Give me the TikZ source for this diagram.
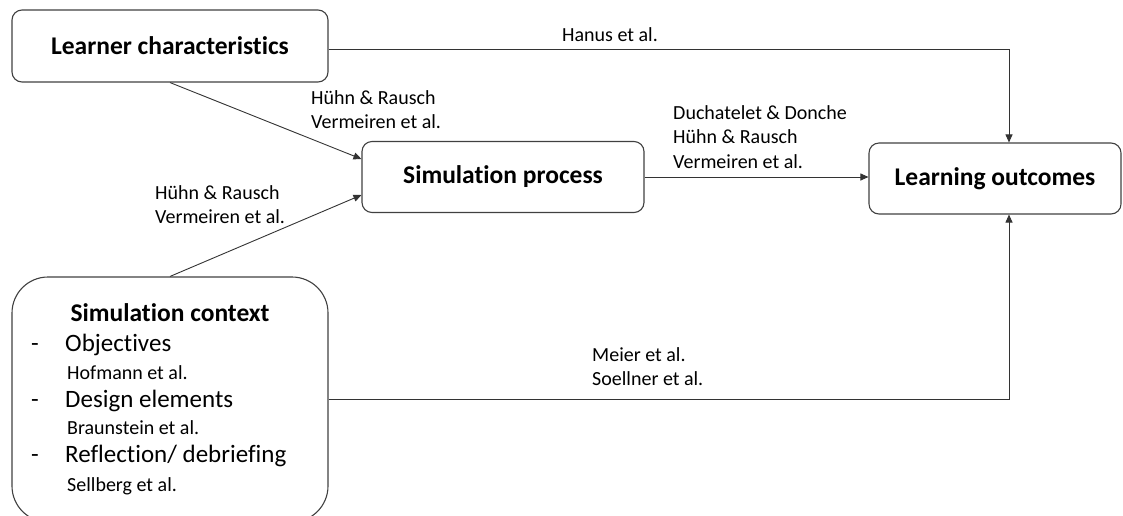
\documentclass[tikz,border=0pt]{standalone}
\usepackage{fontspec}
\setmainfont[Ligatures=NoCommon]{Carlito}
\usetikzlibrary{arrows.meta,calc}
\begin{document}
\begin{tikzpicture}[x=1pt,y=-1pt,
  box/.style={draw=black!75,line width=1.1pt,rounded corners=10pt,inner sep=0pt},
  title/.style={font=\fontsize{25.5}{30}\selectfont\bfseries},
  lbl/.style={font=\fontsize{20}{24.5}\selectfont,align=left,inner sep=0pt,anchor=west},
  item/.style={font=\fontsize{25}{30}\selectfont,inner sep=0pt,anchor=west,text height=18pt,text depth=5pt},
  arr/.style={draw=black!80,line width=0.9pt,-{Triangle[length=8pt,width=7pt]}}
]
\useasboundingbox (0,0) rectangle (1123,515);
% boxes
\node[box,minimum width=316pt,minimum height=72pt] (lc) at (170,46) {};
\node[title] (lct) at (lc.center) {Learner characteristics};
\node[box,minimum width=282pt,minimum height=71pt] (sp) at (503,177) {};
\node[title] (spt) at (sp.center) {Simulation process};
\node[box,minimum width=252pt,minimum height=71pt] (lo) at (995,178.5) {};
\node[title] (lot) at (lo.center) {Learning outcomes};
\node[box,rounded corners=36pt,minimum width=316pt,minimum height=245pt] (ctx) at (170,399.5) {};
% context content
\node[title] (ctxt) at (170,313) {Simulation context};
\node[item] (d1) at (31,345) {-};
\node[item] (i1) at (65,345) {Objectives};
\node[lbl] (s1) at (67,373) {Hofmann et al.};
\node[item] (d2) at (31,401) {-};
\node[item] (i2) at (65,401) {Design elements};
\node[lbl] (s2) at (67,428) {Braunstein et al.};
\node[item] (d3) at (31,456) {-};
\node[item] (i3) at (65,456) {Reflection/ debriefing};
\node[lbl] (s3) at (67,486) {Sellberg et al.};
% connectors
\coordinate (lotop) at ([xshift=14pt]lo.north);
\coordinate (lobot) at ([xshift=14pt]lo.south);
\draw[arr] ([yshift=-3pt]lc.east) -| (lotop);
\draw[arr] (lc.south) -- ([yshift=18pt]sp.west);
\draw[arr] (ctx.north) -- ([yshift=-18pt]sp.west);
\draw[arr] (sp.east) -- (sp.east -| lo.west);
\draw[arr] (ctx.east) -| (lobot);
% labels
\node[lbl] (l1) at (562,35) {Hanus et al.};
\node[lbl] (l2) at (311,109.5) {Hühn \& Rausch\\Vermeiren et al.};
\node[lbl] (l3) at (155,204.5) {Hühn \& Rausch\\Vermeiren et al.};
\node[lbl] (l4) at (673,137) {Duchatelet \& Donche\\Hühn \& Rausch\\Vermeiren et al.};
\node[lbl] (l5) at (592,366.5) {Meier et al.\\Soellner et al.};
\end{tikzpicture}
\end{document}
